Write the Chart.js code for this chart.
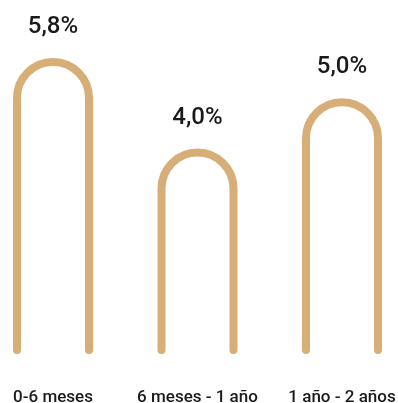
<!DOCTYPE html>
<html>
<head>
<meta charset="utf-8">
<script src="https://cdn.jsdelivr.net/npm/chart.js@4"></script>
<style>
  body { margin: 0; background: #fff; }
  #wrap { position: relative; width: 398px; height: 403px; }
</style>
</head>
<body>
<div id="wrap"><canvas id="myChart"></canvas></div>
<script>
'use strict';

let categories = ['0-6 meses', '6 meses - 1 año', '1 año - 2 años'];
let values = [5.8, 4.0, 5.0];
let valueLabels = ['5,8%', '4,0%', '5,0%'];

let archColor = '#D8AE78';
let lineW = 8;

// each bar is drawn as an arch outline from the bar element's own geometry
let archPlugin = {
  id: 'arch',
  afterDatasetsDraw(chart) {
    let ctx = chart.ctx;
    let meta = chart.getDatasetMeta(0);
    meta.data.forEach(function (bar, i) {
      let w = bar.width;
      let left = bar.x - w / 2 + lineW / 2;
      let right = bar.x + w / 2 - lineW / 2;
      let r = (right - left) / 2;
      let top = bar.y + lineW / 2;
      ctx.save();
      ctx.strokeStyle = archColor;
      ctx.lineWidth = lineW;
      ctx.lineCap = 'round';
      ctx.beginPath();
      ctx.moveTo(left, bar.base);
      ctx.lineTo(left, top + r);
      ctx.arc(bar.x, top + r, r, Math.PI, 0);
      ctx.lineTo(right, bar.base);
      ctx.stroke();
      // value above the arch
      ctx.fillStyle = '#1a1a1a';
      ctx.font = '500 24px Roboto';
      ctx.textAlign = 'center';
      ctx.fillText(valueLabels[i], bar.x, bar.y - 25);
      ctx.restore();
    });
  }
};

let ctx = document.getElementById('myChart').getContext('2d');
let chart = new Chart(ctx, {
  type: 'bar',
  data: {
    labels: categories,
    datasets: [{
      data: values,
      backgroundColor: 'rgba(0,0,0,0)',
      borderWidth: 0,
      barThickness: 80,
      clip: false
    }]
  },
  options: {
    responsive: true,
    maintainAspectRatio: false,
    animation: false,
    layout: { padding: { left: 53, right: 56, top: 0, bottom: 0 } },
    plugins: { legend: { display: false }, tooltip: { enabled: false } },
    scales: {
      x: {
        offset: false,
        grid: { display: false, drawTicks: false },
        border: { display: false },
        afterFit(scale) {
          scale.paddingLeft = 0;
          scale.paddingRight = 0;
          scale.height = 53;
        },
        ticks: {
          padding: 38,
          maxRotation: 0,
          color: '#1a1a1a',
          font: { family: 'Roboto', size: 17, weight: '500' }
        }
      },
      y: { display: false, min: 0, max: 6.95 }
    }
  },
  plugins: [archPlugin]
});
</script>
</body>
</html>
